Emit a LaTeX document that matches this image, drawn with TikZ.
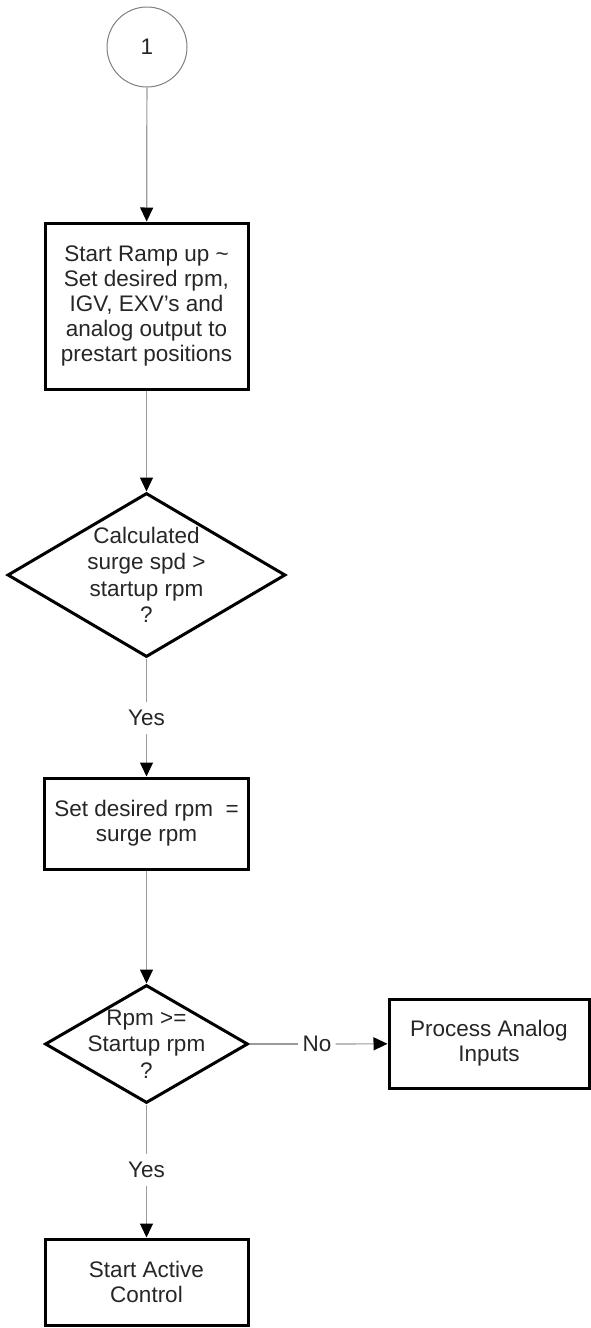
\documentclass[tikz,border=0pt]{standalone}
\usepackage{fontspec}
\setmainfont{Liberation Sans}
\usetikzlibrary{shapes.geometric,arrows.meta}

\definecolor{wire}{HTML}{9A9A9A}
\definecolor{ink}{HTML}{262626}

\tikzset{
  base/.style={font=\fontsize{22.5}{25}\selectfont, text=ink, align=center},
  procbox/.style={base, draw=black, line width=3pt, rectangle, inner sep=0pt},
  decision/.style={draw=black, line width=3pt, diamond, inner sep=0pt},
  dtext/.style={base, font=\fontsize{22.5}{26.5}\selectfont},
  connector/.style={draw=wire, line width=1.2pt},
  arrowline/.style={connector, -{Triangle[width=13pt,length=14pt,color=black]}},
  tag/.style={base, fill=white, inner xsep=4pt, inner ysep=8pt},
}

\begin{document}
\begin{tikzpicture}[x=1pt, y=-1pt]
  \useasboundingbox (0,0) rectangle (591,1328);

  % off-page connector
  \node[base, circle, draw=gray, line width=1pt, minimum size=80pt, inner sep=0pt] (c1) at (147,47) {1};

  % ramp-up step
  \node[procbox, minimum width=203pt, minimum height=166pt] (b1) at (146.5,306)
    {Start Ramp up \textasciitilde\\Set desired rpm,\\IGV, EXV's and\\analog output to\\prestart positions};

  % surge speed check
  \node[decision, minimum width=278pt, minimum height=164pt] (d1) at (146.5,575) {};
  \node[dtext] (d1t) at (d1.center) {Calculated\\surge spd >\\startup rpm\\?};

  \node[tag] (y1) at (146.5,718) {Yes};

  \node[procbox, minimum width=204pt, minimum height=91pt] (b2) at (146.5,823.5)
    {Set desired rpm\ \ =\\surge rpm};

  % startup speed reached?
  \node[decision, minimum width=203pt, minimum height=118pt] (d2) at (146.5,1044) {};
  \node[dtext] (d2t) at (d2.center) {Rpm >=\\Startup rpm\\?};

  \node[tag] (n1) at (317,1044) {No};
  \node[procbox, minimum width=200pt, minimum height=89pt] (p1) at (489,1043.5)
    {Process Analog\\Inputs};

  \node[tag] (y2) at (146.5,1170) {Yes};

  \node[procbox, minimum width=203pt, minimum height=86pt] (b3) at (146.5,1282)
    {Start Active\\Control};

  % connectors
  \draw[arrowline] (c1) -- (b1);
  \draw[arrowline] (b1) -- (d1);
  \draw[connector] (d1) -- (y1);
  \draw[arrowline] (y1) -- (b2);
  \draw[arrowline] (b2) -- (d2);
  \draw[connector] (d2) -- (n1);
  \draw[arrowline] (n1) -- (p1);
  \draw[connector] (d2) -- (y2);
  \draw[arrowline] (y2) -- (b3);
\end{tikzpicture}
\end{document}
